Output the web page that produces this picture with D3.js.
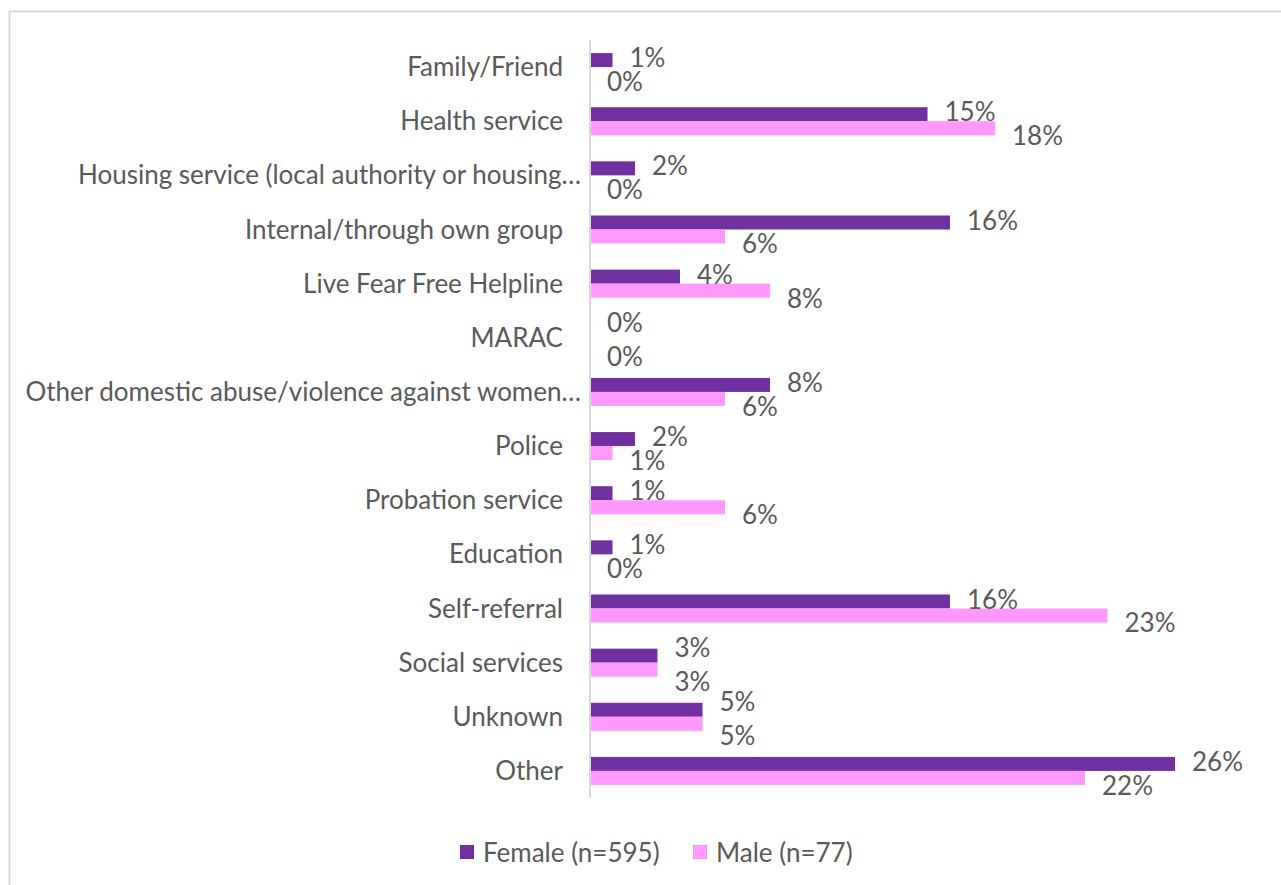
<!DOCTYPE html>
<html>
<head>
<meta charset="utf-8">
<script src="https://cdn.jsdelivr.net/npm/d3@7"></script>
<style>
  html, body { margin: 0; padding: 0; background: #ffffff; }
  svg { display: block; }
  text { font-family: Lato, "Liberation Sans", sans-serif; fill: #595959; }
</style>
</head>
<body>
<svg id="chart" width="1281" height="885"></svg>
<script>
// Referral source by gender (percent of clients)
const categories = [
  "Family/Friend",
  "Health service",
  "Housing service (local authority or housing\u2026",
  "Internal/through own group",
  "Live Fear Free Helpline",
  "MARAC",
  "Other domestic abuse/violence against women\u2026",
  "Police",
  "Probation service",
  "Education",
  "Self-referral",
  "Social services",
  "Unknown",
  "Other"
];
const seriesNames = ["Female (n=595)", "Male (n=77)"];
const femaleValues = [1, 15, 2, 16, 4, 0, 8, 2, 1, 1, 16, 3, 5, 26];
const maleValues   = [0, 18, 0, 6, 8, 0, 6, 1, 6, 0, 23, 3, 5, 22];
const seriesColors = ["#7030A0", "#FF99FF"];
const axisMax = 30;

const svg = d3.select("#chart");

// outer chart frame
svg.append("rect")
  .attr("x", 9.5).attr("y", 11.5)
  .attr("width", 1400).attr("height", 1000)
  .attr("fill", "#ffffff")
  .attr("stroke", "#d9d9d9").attr("stroke-width", 2);

const plot = { left: 590, right: 1265, top: 40, bottom: 798 };

const x = d3.scaleLinear().domain([0, axisMax]).range([plot.left, plot.right]);
const y = d3.scaleBand().domain(categories)
  .range([plot.top, plot.bottom])
  .paddingInner(0.483).paddingOuter(0.2415);
const ySub = d3.scaleBand().domain(seriesNames).range([0, y.bandwidth()]);

const rows = categories.map((c, i) => ({
  category: c,
  same: femaleValues[i] === maleValues[i],
  values: [
    { series: seriesNames[0], value: femaleValues[i], color: seriesColors[0] },
    { series: seriesNames[1], value: maleValues[i], color: seriesColors[1] }
  ]
}));

const fontSize = 26;

// category labels (truncated names get a slightly wider box)
svg.append("g").selectAll("text")
  .data(categories).join("text")
  .attr("x", d => d.endsWith("\u2026") ? plot.left - 9 : plot.left - 27)
  .attr("y", d => y(d) + y.bandwidth() / 2 - 1)
  .attr("text-anchor", "end")
  .attr("dominant-baseline", "central")
  .style("font-size", fontSize + "px")
  .text(d => d);

// bars
const groups = svg.append("g").selectAll("g")
  .data(rows).join("g")
  .attr("transform", d => `translate(0,${y(d.category)})`);

groups.selectAll("rect")
  .data(d => d.values).join("rect")
  .attr("x", x(0))
  .attr("y", d => ySub(d.series))
  .attr("width", d => x(d.value) - x(0))
  .attr("height", ySub.bandwidth())
  .attr("fill", d => d.color);

// value labels, pushed apart vertically so the pair stays readable;
// identical pairs sit right on top of each other, so spread them further
groups.each(function (row) {
  const shift = row.same ? [-9, 11] : [-3, 7];
  d3.select(this).selectAll("text")
    .data(row.values).join("text")
    .attr("x", d => x(d.value) + 17)
    .attr("y", (d, i) => ySub(d.series) + ySub.bandwidth() / 2 + shift[i])
    .attr("dominant-baseline", "central")
    .style("font-size", fontSize + "px")
    .text(d => d3.format(".0f")(d.value) + "%");
});

// vertical axis line
svg.append("line")
  .attr("x1", x(0)).attr("x2", x(0))
  .attr("y1", plot.top).attr("y2", plot.bottom)
  .attr("stroke", "#d9d9d9").attr("stroke-width", 2);

// legend
const legend = svg.append("g").attr("transform", "translate(460,852)");
const legendX = [0, 233];
const items = legend.selectAll("g")
  .data(seriesNames).join("g")
  .attr("transform", (d, i) => `translate(${legendX[i]},0)`);
items.append("rect")
  .attr("x", 0).attr("y", -7)
  .attr("width", 14).attr("height", 14)
  .attr("fill", (d, i) => seriesColors[i]);
items.append("text")
  .attr("x", 23).attr("y", 0)
  .attr("dominant-baseline", "central")
  .style("font-size", fontSize + "px")
  .text(d => d);
</script>
</body>
</html>
